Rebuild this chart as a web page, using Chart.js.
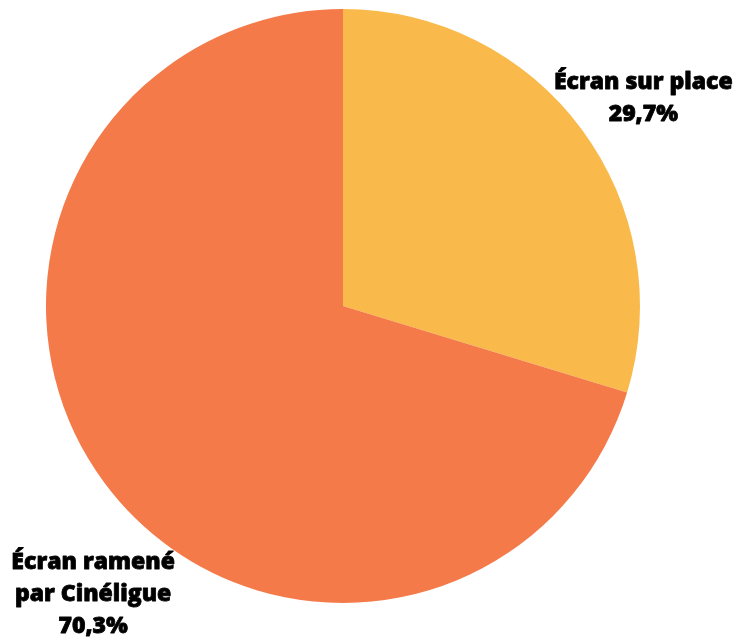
<!DOCTYPE html>
<html>
<head>
<meta charset="utf-8">
<script src="https://cdn.jsdelivr.net/npm/chart.js@4"></script>
<style>
  html, body { margin: 0; padding: 0; background: #fff; }
  #wrap { width: 739px; height: 644px; }
</style>
</head>
<body>
<div id="wrap"><canvas id="canvas"></canvas></div>
<script>
const labels = ["Écran sur place", "Écran ramené par Cinéligue"];
const labelLines = [["Écran sur place", "29,7%"], ["Écran ramené", "par Cinéligue", "70,3%"]];
const values = [29.7, 70.3];
const colors = ["#F9BA4B", "#F47A4A"];

// label placement: angle (deg) and distance (in radii) from pie centre
const labelPlace = [
  { angle: -34.7, dist: 1.23 },
  { angle: 130.9, dist: 1.285 },
];

const sliceLabels = {
  id: "sliceLabels",
  afterDraw: (chart) => {
    const ctx = chart.ctx;
    const arcs = chart.getDatasetMeta(0).data;
    ctx.save();
    ctx.font = "800 23px 'Open Sans'";
    ctx.fillStyle = "#000";
    ctx.strokeStyle = "#000";
    ctx.lineWidth = 0.8;
    ctx.lineJoin = "round";
    ctx.textAlign = "center";
    ctx.textBaseline = "middle";
    arcs.forEach((arc, i) => {
      const p = labelPlace[i];
      const a = (p.angle * Math.PI) / 180;
      const cx = arc.x + Math.cos(a) * arc.outerRadius * p.dist;
      const cy = arc.y + Math.sin(a) * arc.outerRadius * p.dist;
      const lines = labelLines[i];
      const lh = 32;
      lines.forEach((line, j) => {
        const y = cy + (j - (lines.length - 1) / 2) * lh;
        ctx.fillText(line, cx, y);
        ctx.strokeText(line, cx, y);
      });
    });
    ctx.restore();
  },
};

const chart = () => {
  const data = {
    labels: labels,
    datasets: [
      {
        data: values,
        backgroundColor: colors,
        borderWidth: 0,
      },
    ],
  };

  const config = {
    type: "pie",
    data: data,
    options: {
      responsive: true,
      maintainAspectRatio: false,
      animation: false,
      layout: { padding: { left: 46, right: 99, top: 9, bottom: 41 } },
      plugins: {
        legend: { display: false },
        tooltip: { enabled: false },
      },
    },
    plugins: [sliceLabels],
  };

  const canvas = document.getElementById("canvas");
  new Chart(canvas, config);
};

chart();
</script>
</body>
</html>
